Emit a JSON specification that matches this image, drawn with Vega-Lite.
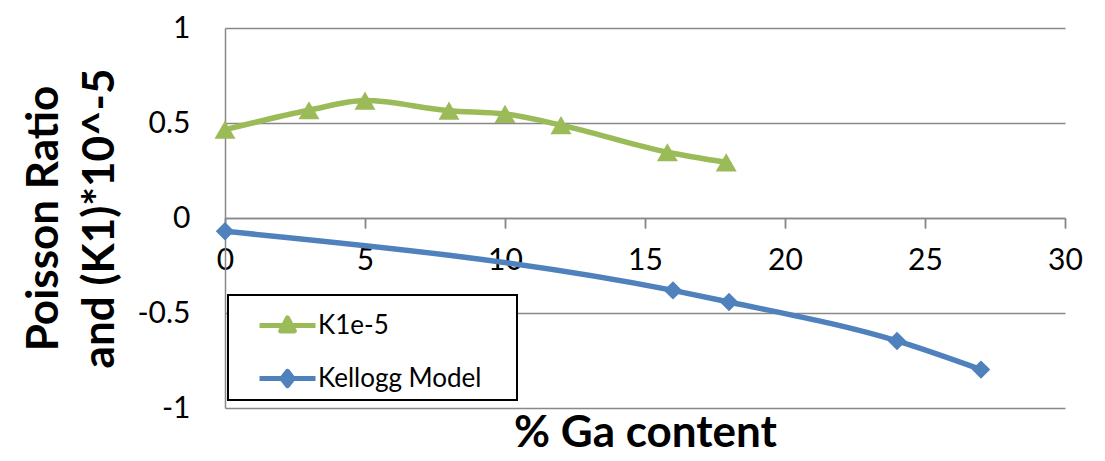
{
  "$schema": "https://vega.github.io/schema/vega-lite/v6.json",
  "width": 840,
  "height": 380,
  "autosize": "none",
  "padding": {"left": 225, "top": 28, "right": 40, "bottom": 53},
  "background": "white",
  "config": {"view": {"stroke": null}, "font": "Lato"},
  "data": {
    "values": [
      {"series": "K1e-5", "ga": 0, "value": 0.465},
      {"series": "K1e-5", "ga": 3, "value": 0.567},
      {"series": "K1e-5", "ga": 5, "value": 0.618},
      {"series": "K1e-5", "ga": 8, "value": 0.565},
      {"series": "K1e-5", "ga": 10, "value": 0.548},
      {"series": "K1e-5", "ga": 12, "value": 0.489},
      {"series": "K1e-5", "ga": 15.8, "value": 0.346},
      {"series": "K1e-5", "ga": 17.9, "value": 0.293},
      {"series": "Kellogg Model", "ga": 0, "value": -0.07},
      {"series": "Kellogg Model", "ga": 16, "value": -0.381},
      {"series": "Kellogg Model", "ga": 18, "value": -0.442},
      {"series": "Kellogg Model", "ga": 24, "value": -0.647},
      {"series": "Kellogg Model", "ga": 27, "value": -0.798}
    ]
  },
  "encoding": {
    "y": {
      "field": "value",
      "type": "quantitative",
      "scale": {"domain": [-1, 1], "nice": false},
      "axis": {
        "values": [-1, -0.5, 0, 0.5, 1],
        "labelExpr": "toString(datum.value)",
        "labelFont": "Lato",
        "labelFontSize": 30,
        "labelColor": "black",
        "labelPadding": 35,
        "ticks": false,
        "domainColor": "#888888",
        "domainWidth": 1.5,
        "grid": true,
        "gridColor": "#888888",
        "gridWidth": 1.5,
        "title": ["Poisson Ratio", "and (K1)*10^-5"],
        "titleFont": "Lato",
        "titleFontSize": 44,
        "titleFontWeight": "bold",
        "titleColor": "black",
        "titleLineHeight": 56,
        "titleAngle": -90,
        "titleX": -168,
        "titleY": 190,
        "titleAlign": "center",
        "titleBaseline": "alphabetic"
      }
    },
    "color": {
      "field": "series",
      "type": "nominal",
      "scale": {"domain": ["K1e-5", "Kellogg Model"], "range": ["#9BBB59", "#4F81BD"]},
      "legend": {
        "orient": "none",
        "legendX": 3,
        "legendY": 267,
        "title": "\u00a0",
        "titleOrient": "right",
        "titlePadding": 28,
        "titleFontSize": 10,
        "padding": 8,
        "strokeColor": "black",
        "fillColor": "white",
        "symbolSize": 1600,
        "symbolOffset": 29,
        "labelOffset": 8,
        "rowPadding": 17,
        "labelFont": "Lato",
        "labelFontSize": 26,
        "labelColor": "black",
        "labelLimit": 500,
        "encode": {
          "legend": {"update": {"strokeWidth": {"value": 2}}},
          "symbols": {
            "update": {
              "shape": {"signal": "datum.value === 'K1e-5' ? 'M-1.4,0H1.4M-0.34,0.27L0,-0.38L0.34,0.27Z' : 'M-1.4,0H1.4M0,-0.36L0.28,0L0,0.36L-0.28,0Z'"},
              "size": {"value": 1600},
              "fill": {"signal": "datum.value === 'K1e-5' ? '#9BBB59' : '#4F81BD'"},
              "stroke": {"signal": "datum.value === 'K1e-5' ? '#9BBB59' : '#4F81BD'"},
              "strokeWidth": {"value": 5},
              "strokeJoin": {"value": "round"},
              "opacity": {"value": 1}
            }
          }
        }
      }
    }
  },
  "layer": [
    {
      "mark": {"type": "line", "interpolate": "monotone", "strokeWidth": 5.5},
      "encoding": {
        "x": {
          "field": "ga",
          "type": "quantitative",
          "scale": {"domain": [0, 30], "nice": false},
          "axis": {
            "values": [0, 5, 10, 15, 20, 25, 30],
            "offset": -190,
            "domainColor": "#888888",
            "domainWidth": 1.5,
            "tickColor": "#888888",
            "tickWidth": 1.5,
            "tickSize": 10,
            "labelFont": "Lato",
            "labelFontSize": 30,
            "labelColor": "black",
            "labelPadding": 17,
            "labelFlush": false,
            "labelOverlap": false,
            "grid": false,
            "title": "% Ga content",
            "titleFont": "Lato",
            "titleFontSize": 44,
            "titleFontWeight": "bold",
            "titleColor": "black",
            "titleX": 420,
            "titleY": 228,
            "titleAlign": "center",
            "titleBaseline": "alphabetic"
          }
        }
      }
    },
    {
      "transform": [{"filter": "datum.series === 'K1e-5'"}],
      "mark": {"type": "point", "filled": true, "opacity": 1, "shape": "triangle-up", "size": 441},
      "encoding": {
        "x": {
          "field": "ga",
          "type": "quantitative",
          "scale": {"domain": [0, 30], "nice": false},
          "axis": {
            "values": [0, 5, 10, 15, 20, 25, 30],
            "offset": -190,
            "domain": false,
            "labels": false,
            "tickColor": "#888888",
            "tickWidth": 1.5,
            "tickSize": -10,
            "grid": false,
            "title": null
          }
        }
      }
    },
    {
      "transform": [{"filter": "datum.series === 'Kellogg Model'"}],
      "mark": {"type": "point", "filled": true, "opacity": 1, "shape": "diamond", "size": 340},
      "encoding": {
        "x": {
          "field": "ga",
          "type": "quantitative",
          "scale": {"domain": [0, 30], "nice": false},
          "axis": null
        }
      }
    }
  ],
  "resolve": {"axis": {"x": "independent"}}
}
